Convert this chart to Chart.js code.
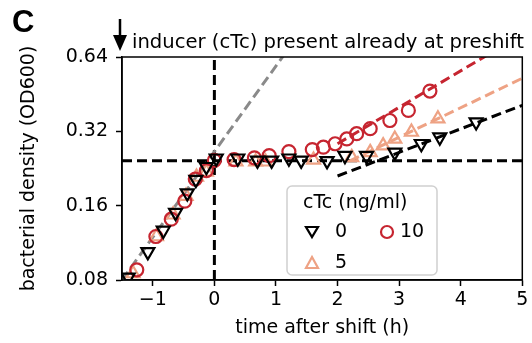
<!DOCTYPE html>
<html>
<head>
<meta charset="utf-8">
<script src="https://cdn.jsdelivr.net/npm/chart.js@4"></script>
<style>
  html, body { margin: 0; padding: 0; background: #fff; }
  #wrap { width: 532px; height: 343px; position: relative; }
</style>
</head>
<body>
<div id="wrap"><canvas id="growthChart" width="532" height="343"></canvas></div>
<script>
// measured points, cTc = 0 / 5 / 10 ng/ml
var time0 = [-1.40, -1.08, -0.83, -0.63, -0.44, -0.30, -0.13, 0.03, 0.38, 0.70, 0.93, 1.21, 1.41, 1.83, 2.12, 2.47, 2.93, 3.36, 3.66, 4.25];
var od0 = [0.082, 0.104, 0.127, 0.150, 0.180, 0.204, 0.230, 0.249, 0.249, 0.244, 0.244, 0.249, 0.244, 0.243, 0.255, 0.255, 0.263, 0.285, 0.303, 0.349];
var time5 = [-1.32, -0.94, -0.67, -0.46, -0.29, -0.13, 0.35, 0.67, 0.83, 1.61, 2.23, 2.53, 2.74, 2.93, 3.20, 3.63];
var od5 = [0.085, 0.120, 0.147, 0.175, 0.209, 0.219, 0.241, 0.241, 0.241, 0.245, 0.251, 0.263, 0.280, 0.298, 0.318, 0.360];
var time10 = [-1.26, -0.95, -0.70, -0.48, -0.31, -0.13, 0.00, 0.32, 0.65, 0.89, 1.21, 1.59, 1.77, 1.96, 2.15, 2.31, 2.53, 2.85, 3.15, 3.50];
var od10 = [0.088, 0.120, 0.141, 0.167, 0.205, 0.222, 0.244, 0.246, 0.250, 0.255, 0.265, 0.270, 0.276, 0.285, 0.298, 0.313, 0.328, 0.354, 0.389, 0.466];

// fitted growth lines
var preFitT = [-1.5, 1.2];
var preFitOD = [0.08, 0.69];
var fit0T = [2.0, 5.0];
var fit0OD = [0.211, 0.408];
var fit5T = [2.2, 5.0];
var fit5OD = [0.243, 0.525];
var fit10T = [2.0, 4.6];
var fit10OD = [0.285, 0.69];

// guide lines
var shiftT = [0, 0];
var shiftOD = [0.08, 0.64];
var plateauT = [-1.5, 5];
var plateauOD = [0.243, 0.243];

var xTicks = [-1, 0, 1, 2, 3, 4, 5];
var yTicks = [0.08, 0.16, 0.32, 0.64];
var yTickLabels = ["0.08", "0.16", "0.32", "0.64"];

var BLACK = "#000000";
var SALMON = "#eea284";
var RED = "#c62530";
var GREY = "#8a8a8a";
var FONT = "'DejaVu Sans', sans-serif";

function pts(xs, ys) {
  return xs.map(function (x, i) { return { x: x, y: ys[i] }; });
}

function markerSet(label, xs, ys, color, style, rot, r, order) {
  return {
    label: label, data: pts(xs, ys), showLine: false,
    pointStyle: style, pointRotation: rot, pointRadius: r, pointHoverRadius: r,
    borderColor: color, backgroundColor: "rgba(0,0,0,0)", pointBorderWidth: 2.2,
    borderWidth: 2.2, order: order
  };
}

function lineSet(xs, ys, color, order) {
  return {
    data: pts(xs, ys), showLine: true, pointRadius: 0, borderColor: color,
    borderWidth: 3, borderDash: [10, 5], fill: false, order: order
  };
}

var extras = {
  id: "extras",
  afterDraw: function (chart) {
    var ctx = chart.ctx, a = chart.chartArea;
    ctx.save();
    // frame
    ctx.strokeStyle = "#000";
    ctx.lineWidth = 1.5;
    ctx.strokeRect(a.left, a.top, a.right - a.left, a.bottom - a.top);

    // panel letter
    ctx.fillStyle = "#000";
    ctx.font = "bold 31px 'Liberation Sans', sans-serif";
    ctx.textBaseline = "alphabetic";
    ctx.textAlign = "left";
    ctx.fillText("C", 12, 32);

    // arrow
    ctx.lineWidth = 2.5;
    ctx.beginPath();
    ctx.moveTo(120, 19);
    ctx.lineTo(120, 38);
    ctx.stroke();
    ctx.beginPath();
    ctx.moveTo(113, 35);
    ctx.lineTo(127, 35);
    ctx.lineTo(120, 51);
    ctx.closePath();
    ctx.fill();

    ctx.font = "19.6px " + FONT;
    ctx.fillText("inducer (cTc) present already at preshift", 132, 48);

    // legend
    var lx = 287, ly = 186, lw = 150, lh = 89;
    ctx.fillStyle = "rgba(255,255,255,0.85)";
    ctx.strokeStyle = "#d0d0d0";
    ctx.lineWidth = 1.5;
    ctx.beginPath();
    ctx.roundRect(lx, ly, lw, lh, 5);
    ctx.fill();
    ctx.stroke();

    ctx.fillStyle = "#000";
    ctx.font = "19px " + FONT;
    ctx.textBaseline = "middle";
    ctx.fillText("cTc (ng/ml)", 303, 203);
    ctx.fillText("0", 335, 232);
    ctx.fillText("10", 400, 232);
    ctx.fillText("5", 335, 263);

    ctx.lineWidth = 2.2;
    ctx.strokeStyle = BLACK;
    ctx.beginPath();
    ctx.moveTo(306, 227); ctx.lineTo(318, 227); ctx.lineTo(312, 237); ctx.closePath();
    ctx.stroke();
    ctx.strokeStyle = SALMON;
    ctx.beginPath();
    ctx.moveTo(306, 268); ctx.lineTo(318, 268); ctx.lineTo(312, 257); ctx.closePath();
    ctx.stroke();
    ctx.strokeStyle = RED;
    ctx.beginPath();
    ctx.arc(387, 232, 6, 0, Math.PI * 2);
    ctx.stroke();
    ctx.restore();
  }
};

var ctx = document.getElementById("growthChart").getContext("2d");
var chart = new Chart(ctx, {
  type: "scatter",
  data: {
    datasets: [
      markerSet("0", time0, od0, BLACK, "triangle", 180, 7.5, 1),
      lineSet(fit10T, fit10OD, RED, 2),
      markerSet("10", time10, od10, RED, "circle", 0, 6.5, 3),
      markerSet("5", time5, od5, SALMON, "triangle", 0, 7.5, 4),
      lineSet(fit5T, fit5OD, SALMON, 5),
      lineSet(fit0T, fit0OD, BLACK, 6),
      lineSet(preFitT, preFitOD, GREY, 7),
      lineSet(shiftT, shiftOD, BLACK, 8),
      lineSet(plateauT, plateauOD, BLACK, 9)
    ]
  },
  options: {
    responsive: false,
    animation: false,
    layout: { padding: { left: 0, right: 7, top: 57, bottom: 0 } },
    plugins: { legend: { display: false }, tooltip: { enabled: false } },
    scales: {
      x: {
        type: "linear", min: -1.5, max: 5,
        afterBuildTicks: function (s) { s.ticks = xTicks.map(function (v) { return { value: v }; }); },
        afterFit: function (s) { s.height = 63; },
        grid: { drawOnChartArea: false, drawTicks: true, tickLength: 6, tickWidth: 1.5, tickColor: "#000" },
        border: { display: true, color: "#000", width: 1.5 },
        ticks: {
          color: "#000", padding: 3, maxRotation: 0, autoSkip: false,
          font: { family: FONT, size: 19 },
          callback: function (v) { return v < 0 ? "\u2212" + Math.abs(v) : String(v); }
        },
        title: { display: true, text: "time after shift (h)", color: "#000", font: { family: FONT, size: 19 }, padding: { top: 0, bottom: 4 } }
      },
      y: {
        type: "logarithmic", min: 0.08, max: 0.64,
        afterBuildTicks: function (s) { s.ticks = yTicks.map(function (v) { return { value: v }; }); },
        afterFit: function (s) { s.width = 122; },
        grid: { drawOnChartArea: false, drawTicks: true, tickLength: 6, tickWidth: 1.5, tickColor: "#000" },
        border: { display: true, color: "#000", width: 1.5 },
        ticks: {
          color: "#000", padding: 8, autoSkip: false,
          font: { family: FONT, size: 19 },
          callback: function (v, i) { return yTickLabels[i]; }
        },
        title: { display: true, text: "bacterial density (OD600)", color: "#000", font: { family: FONT, size: 19 }, padding: { top: 18, bottom: 0 } }
      }
    }
  },
  plugins: [extras]
});
</script>
</body>
</html>
